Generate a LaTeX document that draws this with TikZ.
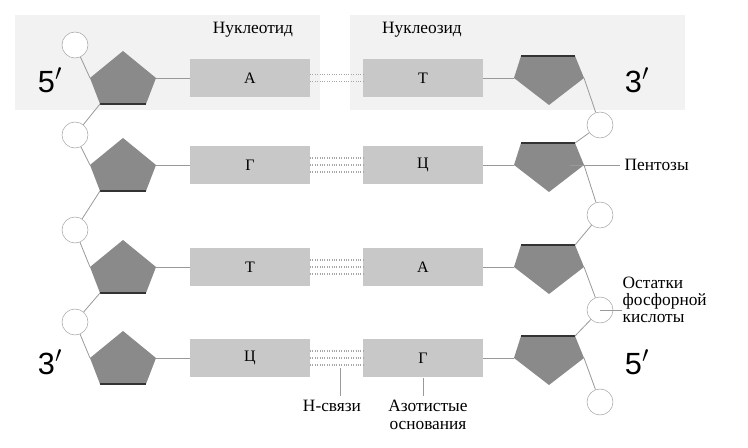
\documentclass[tikz,border=0pt]{standalone}
\usepackage{fontspec}
\setmainfont{Liberation Serif}
\newfontfamily\primefont{Liberation Sans}
\usetikzlibrary{positioning}
\definecolor{bgpanel}{HTML}{F2F2F2}
\definecolor{basefill}{HTML}{C8C8C8}
\definecolor{sugarfill}{HTML}{8A8A8A}
\tikzset{
  base/.style={fill=basefill,minimum width=90pt,minimum height=28.5pt,inner sep=0pt,font=\fontsize{12}{13}\selectfont},
  phos/.style={circle,draw=gray!70,fill=white,minimum size=19.5pt,inner sep=0pt},
  bond/.style={gray!80,line width=0.6pt},
  hbond/.style={gray!70,densely dotted,line width=0.8pt},
  lbl/.style={font=\fontsize{13}{15}\selectfont,align=left},
  prime/.style={font=\primefont\fontsize{23}{25}\selectfont}
}
\begin{document}
\begin{tikzpicture}[x=0.75pt,y=-0.75pt]
\useasboundingbox (0,0) rectangle (748,448);
\fill [bgpanel] (15,15) rectangle (320,110);
\fill [bgpanel] (350,15) rectangle (685,110);

% rows
\foreach \row/\y/\l/\r/\n in {1/78/А/Т/2,2/165/Г/Ц/3,3/267/Т/А/3,4/358/Ц/Г/3}{
  \node [base] (L\row) at (250,\y) {\l};
  \node [base] (R\row) at (423,\y) {\r};
  \ifnum\n=2
    \draw [hbond] (310,\y-3.5) -- (363,\y-3.5);
    \draw [hbond] (310,\y+3.5) -- (363,\y+3.5);
  \else
    \foreach \d in {-7,0,7} \draw [hbond] (310,\y+\d) -- (363,\y+\d);
  \fi
  % left sugar
  \fill [sugarfill] (123,\y-27) -- (156,\y) -- (146,\y+26) -- (100,\y+26) -- (90,\y) -- cycle;
  \draw [line width=1.5pt,black!80] (100,\y+26) -- (146,\y+26);
  \coordinate (SL\row) at (90,\y);
  \coordinate (SLb\row) at (100,\y+26);
  % right sugar
  \fill [sugarfill] (521,\y-22) -- (575,\y-22) -- (584,\y) -- (549,\y+27) -- (514,\y) -- cycle;
  \draw [line width=1.5pt,black!80] (521,\y-22) -- (575,\y-22);
  \coordinate (SRt\row) at (575,\y-22);
  \coordinate (SR\row) at (584,\y);
  \draw [bond] (156,\y) -- (L\row.west);
  \draw [bond] (R\row.east) -- (514,\y);
}

% phosphates
\node [phos] (PL1) at (75,45) {};
\node [phos] (PL2) at (75,135) {};
\node [phos] (PL3) at (75,230) {};
\node [phos] (PL4) at (75,322) {};
\node [phos] (PR1) at (600,125) {};
\node [phos] (PR2) at (600,215) {};
\node [phos] (PR3) at (600,310) {};
\node [phos] (PR4) at (600,402) {};

\draw [bond] (PL1) -- (SL1);
\draw [bond] (SLb1) -- (PL2) -- (SL2);
\draw [bond] (SLb2) -- (PL3) -- (SL3);
\draw [bond] (SLb3) -- (PL4) -- (SL4);
\draw [bond] (SR1) -- (PR1) -- (SRt2);
\draw [bond] (SR2) -- (PR2) -- (SRt3);
\draw [bond] (SR3) -- (PR3) -- (SRt4);
\draw [bond] (SR4) -- (PR4);

% labels
\node [lbl] at (253,30) {Нуклеотид};
\node [lbl] at (422,30) {Нуклеозид};
\node [prime] at (50,80) {5$'$};
\node [prime] at (637,80) {3$'$};
\node [prime] at (50,362) {3$'$};
\node [prime] at (637,362) {5$'$};

\node [lbl,anchor=west] (pent) at (620,165) {Пентозы};
\draw [bond] (570,165) -- (pent.west);
\node [lbl,anchor=west,align=left] (ost) at (618,300) {Остатки\\[-2pt]фосфорной\\[-2pt]кислоты};
\draw [bond] (PR3.center) -- (622,310);

\node [lbl] (hsv) at (332,406) {Н-связи};
\draw [bond] (340,368) -- (hsv.north -| 340,0);
\node [lbl,align=center] (azot) at (428,415) {Азотистые\\[-2pt]основания};
\draw [bond] (423,378) -- (azot.north -| 423,0);
\end{tikzpicture}
\end{document}
